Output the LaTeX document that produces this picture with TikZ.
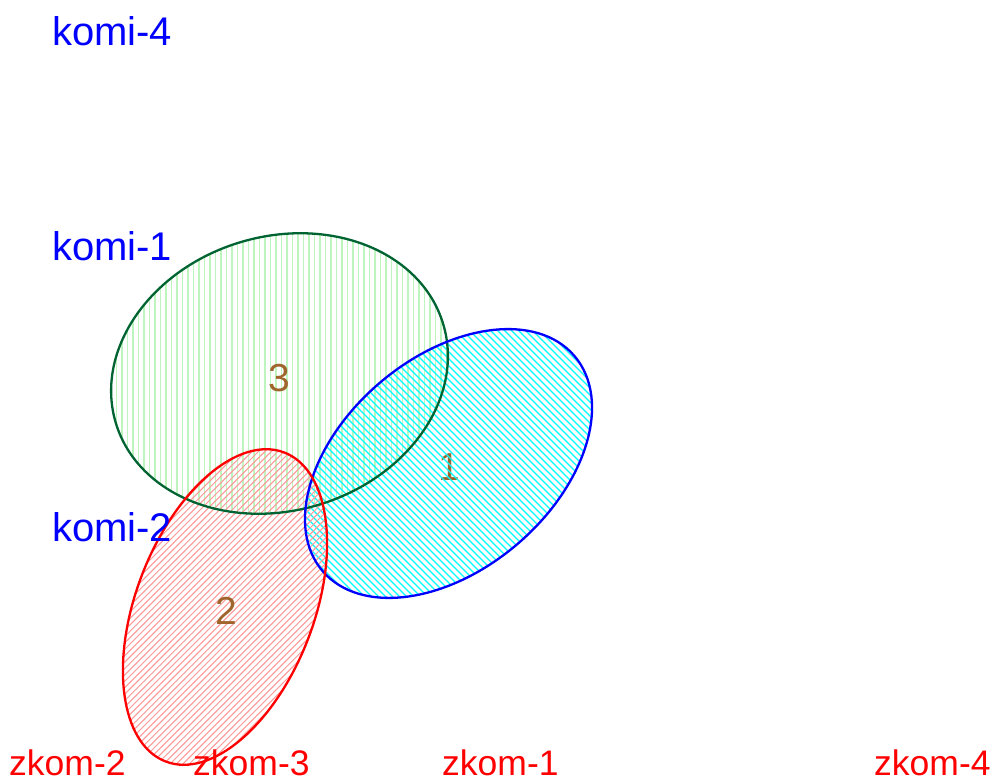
\documentclass[tikz,border=0pt]{standalone}
\usepackage{fontspec}
\setmainfont{Liberation Sans}
\definecolor{grnline}{RGB}{0,100,50}
\definecolor{grnhatch}{RGB}{190,245,190}
\definecolor{redhatch}{RGB}{255,150,150}
\definecolor{cyanhatch}{RGB}{0,255,255}
\definecolor{numcol}{RGB}{160,100,45}
\tikzset{
  rowlab/.style={anchor=base west, text=blue, font=\fontsize{40}{40}\selectfont, inner sep=0pt},
  collab/.style={anchor=base west, text=red, font=\fontsize{35.5}{35.5}\selectfont, inner sep=0pt},
  numlab/.style={anchor=center, text=numcol, font=\fontsize{39}{39}\selectfont, inner sep=0pt},
  outline/.style={line width=2.3pt},
  grnh/.style={grnhatch, line width=1.8pt},
  cyanh/.style={cyanhatch, line width=1.3pt},
  redh/.style={redhatch, line width=1pt},
}
\begin{document}
\begin{tikzpicture}[x=1pt,y=-1pt]
\useasboundingbox (0,0) rectangle (992,781);
% number 1 under the blue hatching
\node[numlab] (n1) at (449,467) {1};
% green hatching (vertical)
\begin{scope}
  \clip[rotate around={17:(279.5,373.5)}] (279.5,373.5) ellipse [x radius=171pt, y radius=137pt];
  \foreach \c in {100,105.5,...,460} \draw[grnh] (\c,220) -- (\c,530);
\end{scope}
% cyan hatching (down-right)
\begin{scope}
  \clip[rotate around={40.5:(448.5,463.5)}] (448.5,463.5) ellipse [x radius=165.6pt, y radius=106pt];
  \foreach \c in {-330,-323,...,300} \draw[cyanh] (300+\c,300) -- (620+\c,620);
\end{scope}
% red hatching (up-right)
\begin{scope}
  \clip[rotate around={69:(225,607)}] (225,607) ellipse [x radius=165.5pt, y radius=89pt];
  \foreach \c in {550,556.4,...,1110} \draw[redh] (\c-430,430) -- (\c-790,790);
\end{scope}
% outlines
\draw[outline, grnline, rotate around={17:(279.5,373.5)}] (279.5,373.5) ellipse [x radius=171pt, y radius=137pt];
\draw[outline, blue, rotate around={40.5:(448.5,463.5)}] (448.5,463.5) ellipse [x radius=165.6pt, y radius=106pt];
\draw[outline, red, rotate around={69:(225,607)}] (225,607) ellipse [x radius=165.5pt, y radius=89pt];
% numbers
\node[numlab] (n3) at (279,378) {3};
\node[numlab] (n2) at (226,611) {2};
% row labels
\node[rowlab] (k4) at (52,46) {komi-4};
\node[rowlab] (k1) at (52,260) {komi-1};
\node[rowlab] (k2) at (52,541) {komi-2};
% column labels
\node[collab] (z2) at (9,775) {zkom-2};
\node[collab] (z3) at (193,775) {zkom-3};
\node[collab] (z1) at (442,775) {zkom-1};
\node[collab] (z4) at (874,775) {zkom-4};
\end{tikzpicture}
\end{document}
